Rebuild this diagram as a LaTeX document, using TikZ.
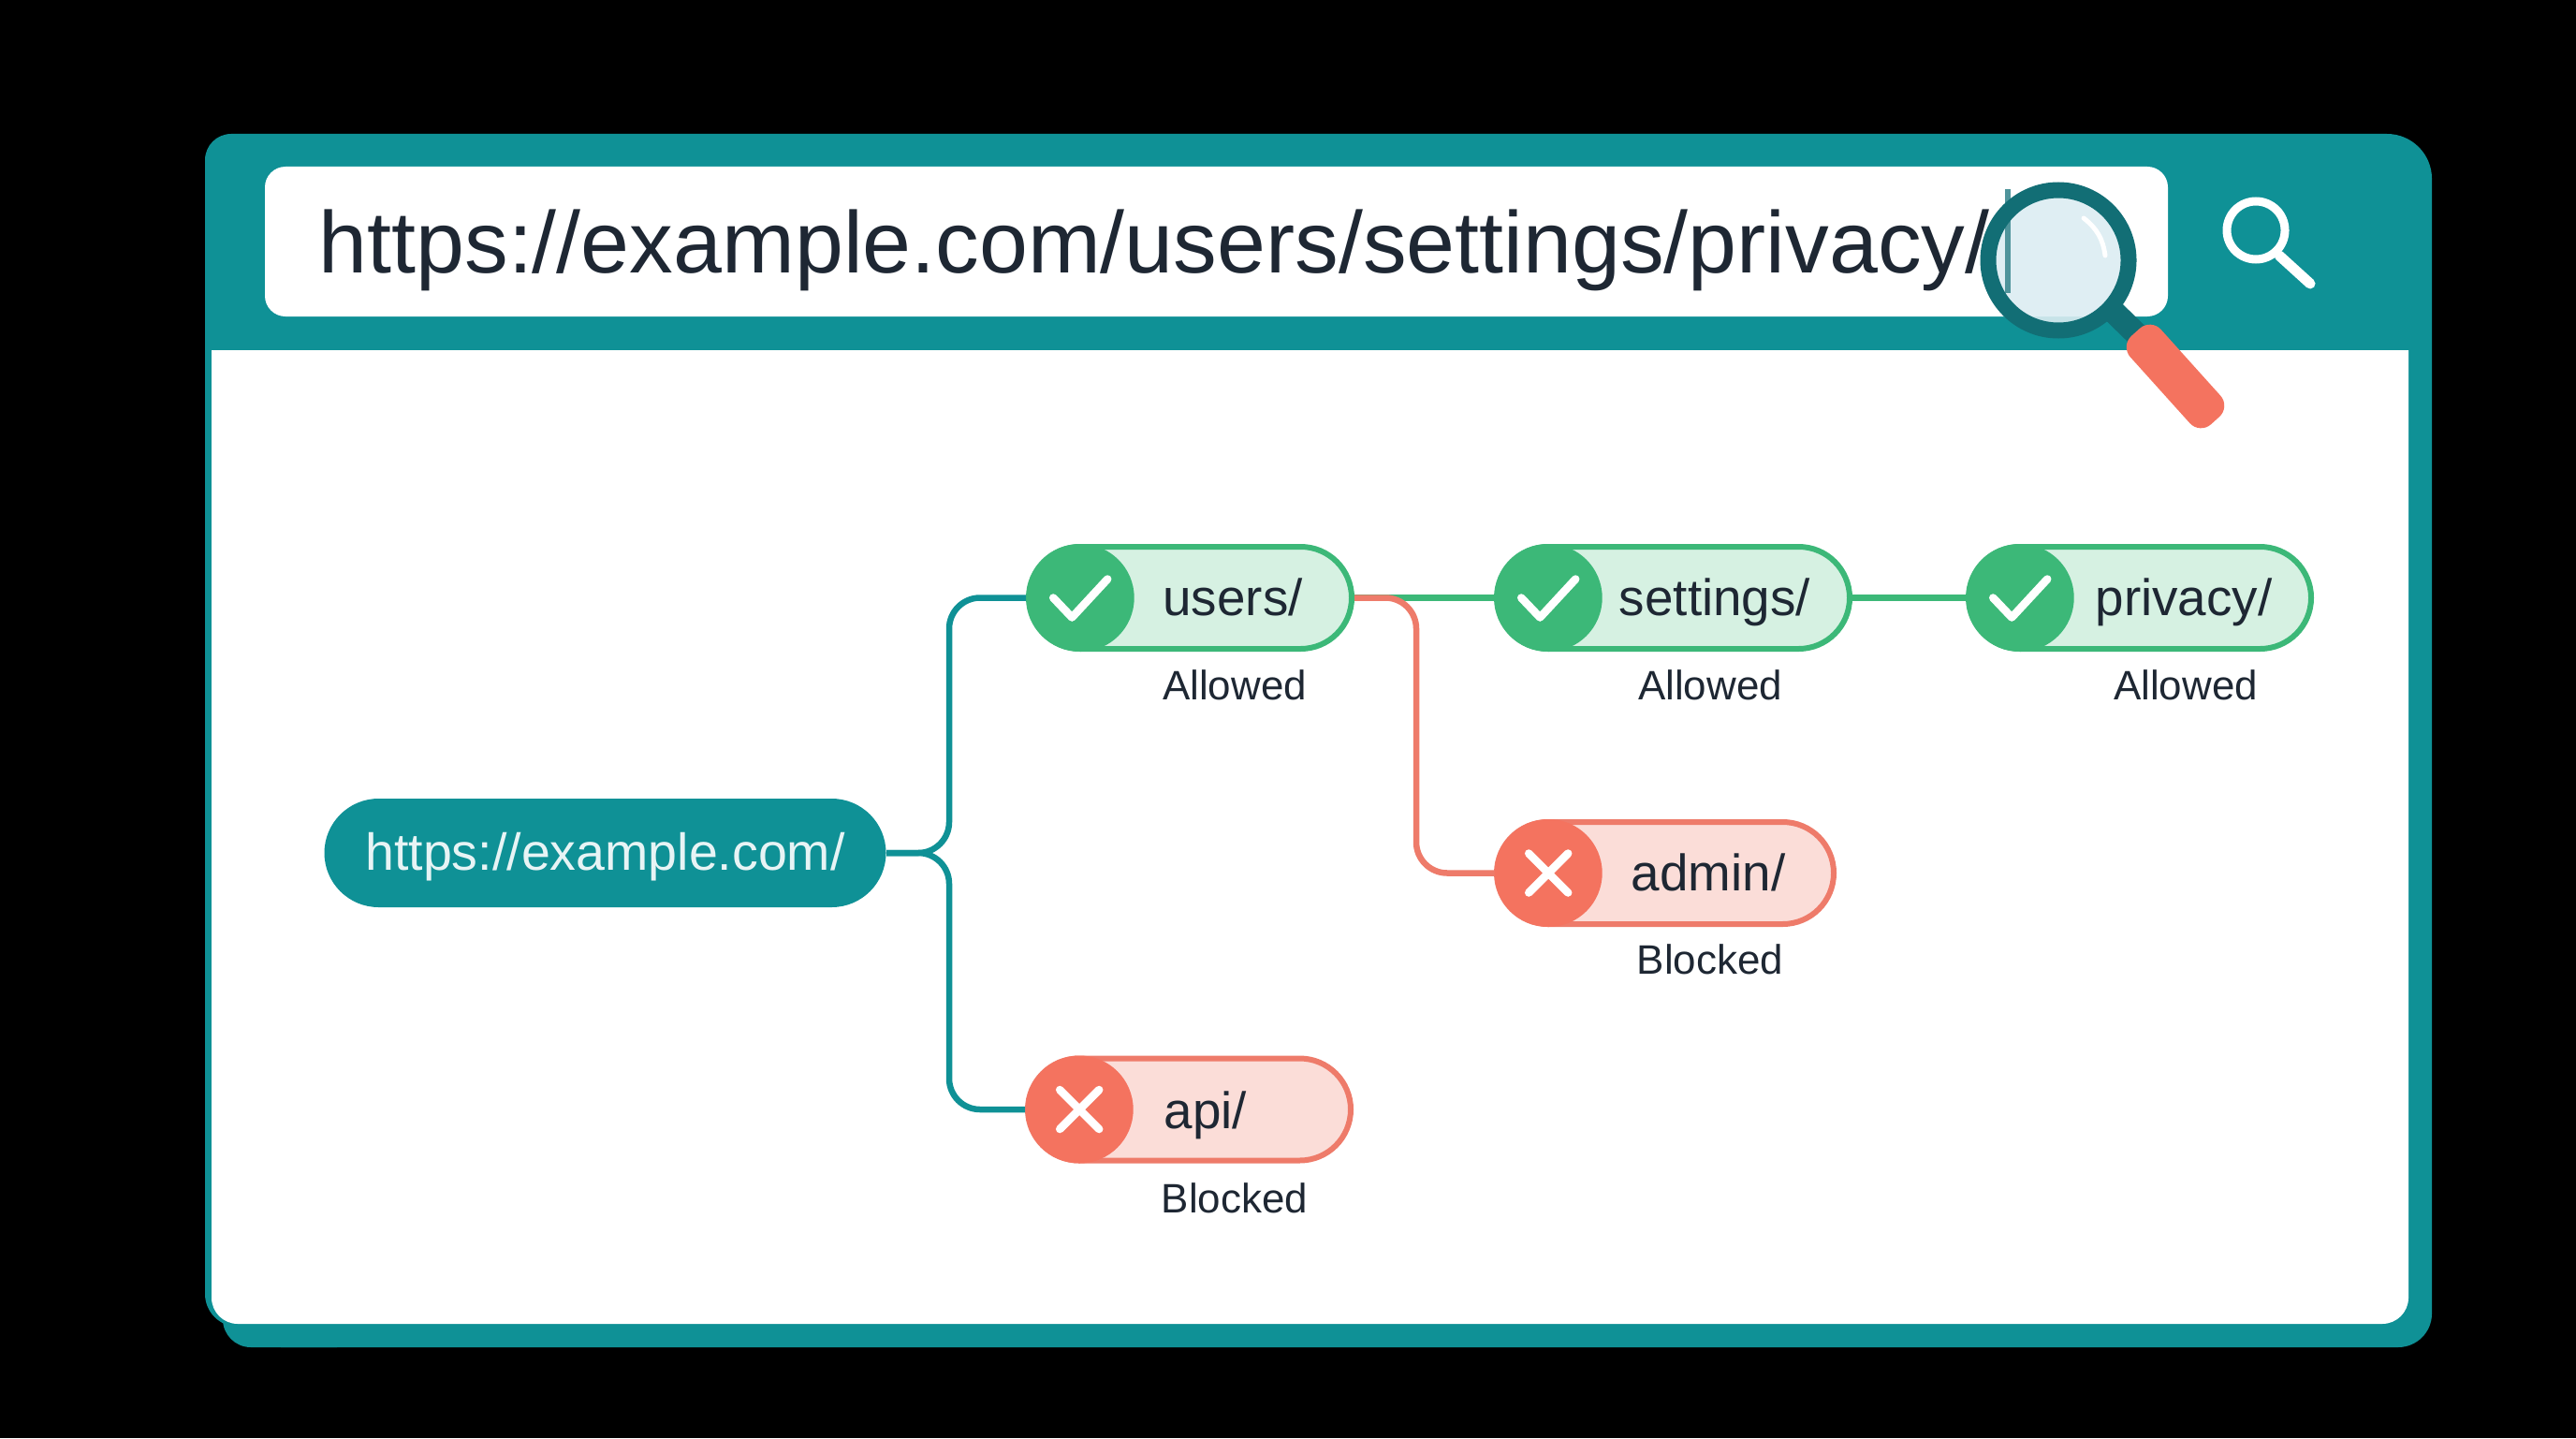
\documentclass[tikz,border=0pt]{standalone}
\usepackage{fontspec}
\setmainfont{Liberation Sans}
\definecolor{framecol}{HTML}{0F9196}
\definecolor{ringcol}{HTML}{126E75}
\definecolor{lenscol}{HTML}{DCEDF2}
\definecolor{inkcol}{HTML}{1E2733}
\definecolor{okcol}{HTML}{3CB878}
\definecolor{oklight}{HTML}{D6F1E2}
\definecolor{badcol}{HTML}{F4735F}
\definecolor{badline}{HTML}{EE7B6A}
\definecolor{badlight}{HTML}{FBDDD8}
\tikzset{
    pill/.style={draw, line width=0.6mm, minimum height=1.09cm, rounded corners=0.545cm, inner sep=0pt},
    okpill/.style={pill, draw=okcol, fill=oklight},
    badpill/.style={pill, draw=badline, fill=badlight},
    okhead/.style={circle, fill=okcol, minimum size=1.15cm, inner sep=0pt, anchor=west},
    badhead/.style={circle, fill=badcol, minimum size=1.15cm, inner sep=0pt, anchor=west},
    pilltext/.style={anchor=base, text=inkcol, inner sep=0pt, font=\fontsize{15.6pt}{18pt}\selectfont},
    statetext/.style={anchor=base, text=inkcol, inner sep=0pt, font=\fontsize{12.5pt}{15pt}\selectfont},
    tealline/.style={draw=framecol, line width=0.65mm, rounded corners=0.33cm},
    okline/.style={draw=okcol, line width=0.65mm},
    badlink/.style={draw=badline, line width=0.65mm, rounded corners=0.33cm},
    okmark/.pic={\draw[white, line width=0.85mm, line cap=round, line join=round] (-0.29,0) -- (-0.09,0.21) -- (0.29,-0.2);},
    badmark/.pic={\draw[white, line width=0.85mm, line cap=round] (-0.21,-0.21) -- (0.21,0.21) (-0.21,0.21) -- (0.21,-0.21);}
}
\begin{document}
\begin{tikzpicture}[y=-1cm]
    \fill[black] (0,0) rectangle (27.52,15.36);

    % browser window
    \fill[framecol] (2.19,9) [rounded corners=0.28cm] -- (2.19,1.43) [rounded corners=0.48cm] -- (25.98,1.43) [rounded corners=0.36cm] -- (25.98,14.39) [sharp corners] -- (3,14.39) -- (3,14.17) [rounded corners=0.35cm] -- (2.19,14.17) [sharp corners] -- cycle;
    \fill[framecol] (3.6,13) -- (2.38,13) [rounded corners=0.3cm] -- (2.38,14.39) [sharp corners] -- (3.6,14.39) -- cycle;
    \fill[white] (2.26,3.74) [rounded corners=0.28cm] -- (2.26,14.14) -- (25.73,14.14) [sharp corners] -- (25.73,3.74) -- cycle;

    % address bar
    \node[fill=white, rounded corners=0.22cm, minimum width=20.33cm, minimum height=1.6cm, inner sep=0pt] (bar) at (12.995,2.58) {};
    \node[anchor=base, text=inkcol, inner sep=0pt, font=\fontsize{26.56pt}{30pt}\selectfont] (url) at (12.33,2.91) {https://example.com/users/settings/privacy/};

    % small search icon
    \node[circle, draw=white, line width=0.9mm, minimum size=0.62cm, inner sep=0pt] (searchring) at (24.10,2.46) {};
    \coordinate (searchend) at (24.68,3.03);
    \draw[white, line width=1.1mm, line cap=round] (searchring) ++(0.25,0.27) -- (searchend);

    % magnifier
    \coordinate (lens) at (21.99,2.78);
    \coordinate (neck) at (22.55,3.3);
    \draw[ringcol, line width=2.5mm] (neck) -- (22.92,3.66);
    \node[rotate=-48, fill=badcol, rounded corners=0.16cm, minimum width=1.27cm, minimum height=0.44cm, inner sep=0pt] (grip) at (23.24,4.02) {};
    \fill[lenscol, opacity=0.9] (lens) circle (0.75);
    \draw[white, line width=0.5mm, line cap=round] (22.26,2.33) to[bend left=22] (22.49,2.73);
    \draw[ringcol!70!lenscol, line width=0.65mm] (21.45,2.02) -- (21.45,3.13);
    \draw[ringcol, line width=1.7mm] (lens) circle (0.75);

    % tree
    \node[fill=framecol, minimum width=6cm, minimum height=1.16cm, rounded corners=0.58cm, inner sep=0pt] (root) at (6.465,9.11) {};
    \node[anchor=base, text=white!90!framecol, inner sep=0pt, font=\fontsize{15.8pt}{18pt}\selectfont] (roottext) at (6.465,9.29) {https://example.com/};

    \node[okpill, minimum width=3.45cm] (users) at (12.715,6.385) {};
    \node[okpill, minimum width=3.77cm] (settings) at (17.875,6.385) {};
    \node[okpill, minimum width=3.66cm] (privacy) at (22.86,6.385) {};
    \node[badpill, minimum width=3.60cm] (admin) at (17.79,9.325) {};
    \node[badpill, minimum width=3.45cm] (api) at (12.705,11.85) {};

    \coordinate (fork) at (10.14,9.11);
    \coordinate (turn) at (15.13,6.385);
    \draw[tealline] (root.east) -- (fork) |- (users.west);
    \draw[tealline] (root.east) -- (fork) |- (api.west);
    \draw[okline] (users.east) -- (settings.west);
    \draw[okline] (settings.east) -- (privacy.west);
    \draw[badlink] (users.east) -- (turn) |- (admin.west);

    \node[okhead] (usersicon) at (users.west) {};
    \node[okhead] (settingsicon) at (settings.west) {};
    \node[okhead] (privacyicon) at (privacy.west) {};
    \node[badhead] (adminicon) at (admin.west) {};
    \node[badhead] (apiicon) at (api.west) {};
    \pic at (usersicon.center) {okmark};
    \pic at (settingsicon.center) {okmark};
    \pic at (privacyicon.center) {okmark};
    \pic at (adminicon.center) {badmark};
    \pic at (apiicon.center) {badmark};

    \node[pilltext] (userstext) at (13.17,6.57) {users/};
    \node[pilltext] (settingstext) at (18.32,6.57) {settings/};
    \node[pilltext] (privacytext) at (23.33,6.57) {privacy/};
    \node[pilltext] (admintext) at (18.25,9.51) {admin/};
    \node[pilltext] (apitext) at (12.88,12.05) {api/};

    \node[statetext] (usersstate) at (13.19,7.47) {Allowed};
    \node[statetext] (settingsstate) at (18.27,7.47) {Allowed};
    \node[statetext] (privacystate) at (23.35,7.47) {Allowed};
    \node[statetext] (adminstate) at (18.27,10.40) {Blocked};
    \node[statetext] (apistate) at (13.19,12.95) {Blocked};
\end{tikzpicture}
\end{document}
